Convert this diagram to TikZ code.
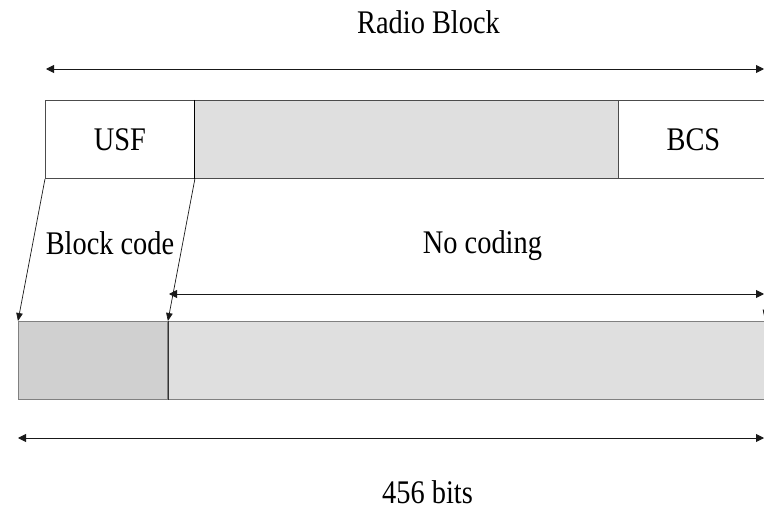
\documentclass[tikz,border=0pt]{standalone}
\usepackage{fontspec}
\newfontfamily\labfont{Liberation Serif}[FakeStretch=0.86]
\usetikzlibrary{arrows.meta}
\definecolor{lightfill}{HTML}{DFDFDF}
\definecolor{darkfill}{HTML}{D0D0D0}
\begin{document}
\begin{tikzpicture}[x=1pt,y=-1pt,
  lab/.style={font=\labfont\fontsize{33}{33}\selectfont, inner sep=0pt, text=black},
  cell/.style={draw=black!70, line width=0.9pt, anchor=north west, inner sep=0pt,
     minimum height=78pt, font=\labfont\fontsize{33}{33}\selectfont},
  dimline/.style={line width=0.9pt, draw=black!90, {Triangle[length=8pt,width=8pt]}-{Triangle[length=8pt,width=8pt]}},
  slant/.style={line width=0.7pt, draw=black!90, -{Triangle[length=8pt,width=6.5pt]}}]
\useasboundingbox (0,0) rectangle (764,511);
\clip (0,0) rectangle (764,511);
\fill[white] (0,0) rectangle (764,511);

% title
\node[lab, anchor=base] (title) at (428.5,34) {Radio Block};
\coordinate (ta) at (46,69);
\coordinate (tb) at (764,69);
\draw[dimline] (ta) -- (tb);

% top block
\node[cell, fill=white, minimum width=149pt] (usf) at (45,100) {USF};
\node[cell, fill=lightfill, minimum width=424pt] (data) at (194,100) {};
\node[cell, fill=white, minimum width=150pt, text width=146pt, align=center] (bcs) at (618,100) {BCS};
\draw[line width=1.1pt, black] (usf.north east) -- (usf.south east);

% bottom block
\node[cell, fill=darkfill, minimum width=149pt, draw=black!50] (bl) at (18,321) {};
\node[cell, fill=lightfill, minimum width=605pt, draw=black!50] (br) at (167,321) {};
\draw[line width=0.8pt, black!80] (bl.north east) -- (bl.south east);

% slanted arrows
\draw[slant] (usf.south west) -- (bl.north west);
\draw[slant] (usf.south east) -- (bl.north east);
\coordinate (xs) at (791,177);
\coordinate (xe) at (764.5,318);
\draw[slant] (xs) -- (xe);

\node[lab, anchor=base] (bc) at (110,254) {Block code};
\node[lab, anchor=base] (nc) at (482.5,253) {No coding};

% no coding span
\coordinate (ma) at (169,294);
\coordinate (mb) at (764,294);
\draw[dimline] (ma) -- (mb);

% total span
\coordinate (ba) at (18,438);
\coordinate (bb) at (764,438);
\draw[dimline] (ba) -- (bb);
\node[lab, anchor=base] (bits) at (427.5,503) {456 bits};
\end{tikzpicture}
\end{document}
